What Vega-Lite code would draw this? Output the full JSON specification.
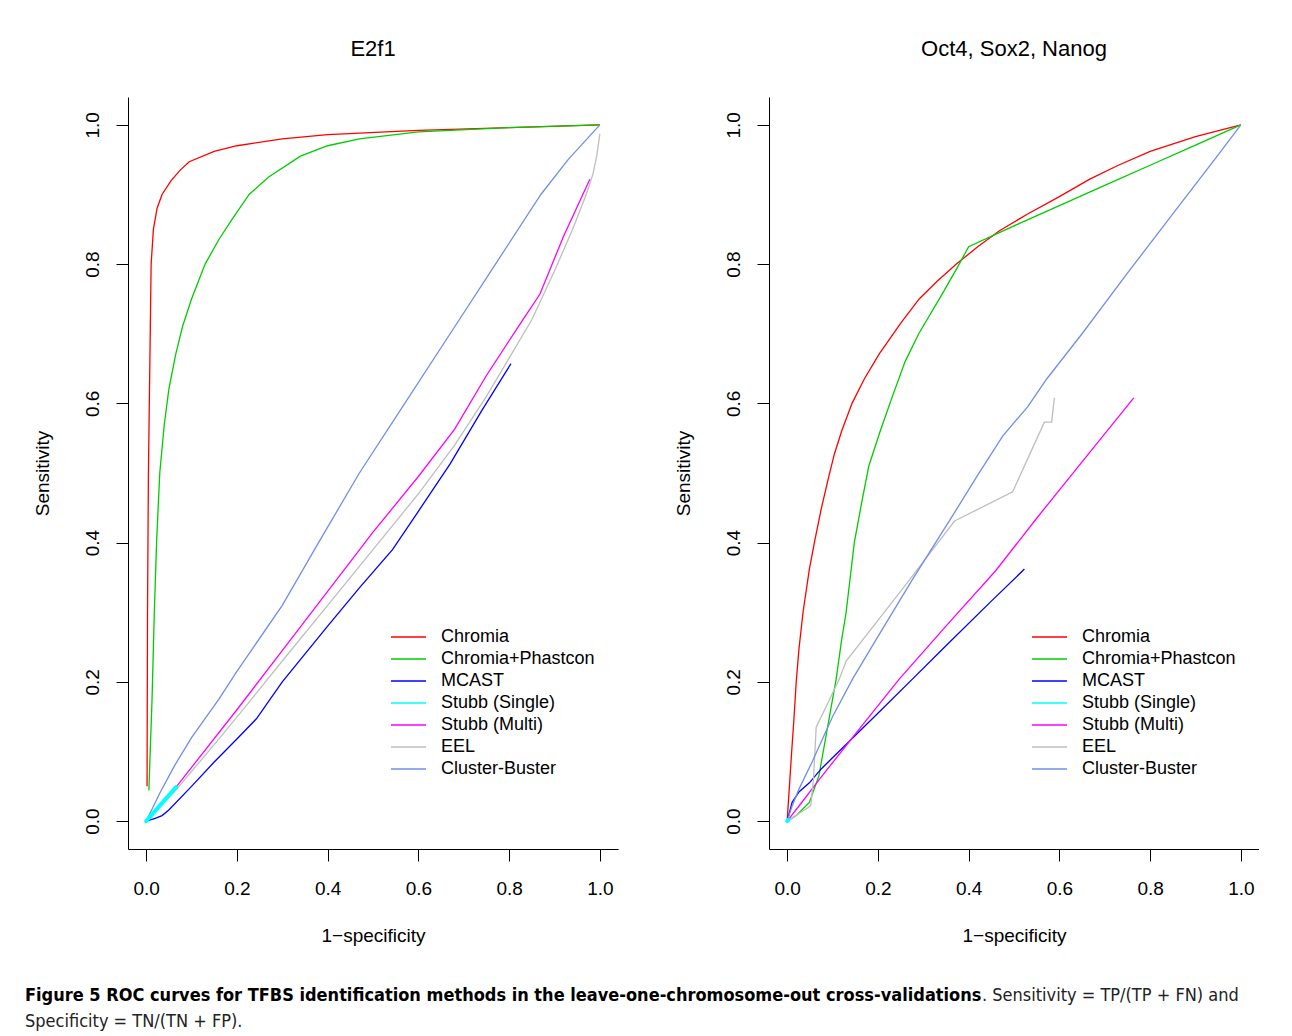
{
  "$schema": "https://vega.github.io/schema/vega-lite/v6.json",
  "padding": {"left": 25, "top": 38, "right": 0, "bottom": 0},
  "background": "white",
  "datasets": {
    "e2f1": [
      {"method": "Chromia", "i": 1, "fpr": 0.002, "tpr": 0.05},
      {"method": "Chromia", "i": 2, "fpr": 0.003, "tpr": 0.3},
      {"method": "Chromia", "i": 3, "fpr": 0.005, "tpr": 0.5},
      {"method": "Chromia", "i": 4, "fpr": 0.007, "tpr": 0.6},
      {"method": "Chromia", "i": 5, "fpr": 0.009, "tpr": 0.7},
      {"method": "Chromia", "i": 6, "fpr": 0.011, "tpr": 0.8},
      {"method": "Chromia", "i": 7, "fpr": 0.016, "tpr": 0.85},
      {"method": "Chromia", "i": 8, "fpr": 0.024, "tpr": 0.88},
      {"method": "Chromia", "i": 9, "fpr": 0.035, "tpr": 0.9},
      {"method": "Chromia", "i": 10, "fpr": 0.055, "tpr": 0.92},
      {"method": "Chromia", "i": 11, "fpr": 0.075, "tpr": 0.935},
      {"method": "Chromia", "i": 12, "fpr": 0.095, "tpr": 0.947},
      {"method": "Chromia", "i": 13, "fpr": 0.15, "tpr": 0.962},
      {"method": "Chromia", "i": 14, "fpr": 0.2, "tpr": 0.97},
      {"method": "Chromia", "i": 15, "fpr": 0.3, "tpr": 0.98},
      {"method": "Chromia", "i": 16, "fpr": 0.4, "tpr": 0.986},
      {"method": "Chromia", "i": 17, "fpr": 0.6, "tpr": 0.992},
      {"method": "Chromia", "i": 18, "fpr": 0.8, "tpr": 0.996},
      {"method": "Chromia", "i": 19, "fpr": 1.0, "tpr": 1.0},
      {"method": "Chromia+Phastcon", "i": 1, "fpr": 0.006, "tpr": 0.044},
      {"method": "Chromia+Phastcon", "i": 2, "fpr": 0.013, "tpr": 0.175},
      {"method": "Chromia+Phastcon", "i": 3, "fpr": 0.018, "tpr": 0.3},
      {"method": "Chromia+Phastcon", "i": 4, "fpr": 0.023, "tpr": 0.4},
      {"method": "Chromia+Phastcon", "i": 5, "fpr": 0.03, "tpr": 0.5},
      {"method": "Chromia+Phastcon", "i": 6, "fpr": 0.04, "tpr": 0.57},
      {"method": "Chromia+Phastcon", "i": 7, "fpr": 0.05, "tpr": 0.62},
      {"method": "Chromia+Phastcon", "i": 8, "fpr": 0.065, "tpr": 0.67},
      {"method": "Chromia+Phastcon", "i": 9, "fpr": 0.08, "tpr": 0.71},
      {"method": "Chromia+Phastcon", "i": 10, "fpr": 0.1, "tpr": 0.75},
      {"method": "Chromia+Phastcon", "i": 11, "fpr": 0.13, "tpr": 0.8},
      {"method": "Chromia+Phastcon", "i": 12, "fpr": 0.16, "tpr": 0.835},
      {"method": "Chromia+Phastcon", "i": 13, "fpr": 0.19, "tpr": 0.865},
      {"method": "Chromia+Phastcon", "i": 14, "fpr": 0.227, "tpr": 0.9},
      {"method": "Chromia+Phastcon", "i": 15, "fpr": 0.27, "tpr": 0.925},
      {"method": "Chromia+Phastcon", "i": 16, "fpr": 0.34, "tpr": 0.955},
      {"method": "Chromia+Phastcon", "i": 17, "fpr": 0.4, "tpr": 0.97},
      {"method": "Chromia+Phastcon", "i": 18, "fpr": 0.47, "tpr": 0.98},
      {"method": "Chromia+Phastcon", "i": 19, "fpr": 0.6, "tpr": 0.99},
      {"method": "Chromia+Phastcon", "i": 20, "fpr": 0.8, "tpr": 0.996},
      {"method": "Chromia+Phastcon", "i": 21, "fpr": 1.0, "tpr": 1.0},
      {"method": "MCAST", "i": 1, "fpr": 0.0, "tpr": 0.0},
      {"method": "MCAST", "i": 2, "fpr": 0.02, "tpr": 0.004},
      {"method": "MCAST", "i": 3, "fpr": 0.035, "tpr": 0.008},
      {"method": "MCAST", "i": 4, "fpr": 0.05, "tpr": 0.016},
      {"method": "MCAST", "i": 5, "fpr": 0.1, "tpr": 0.05},
      {"method": "MCAST", "i": 6, "fpr": 0.15, "tpr": 0.085},
      {"method": "MCAST", "i": 7, "fpr": 0.2, "tpr": 0.118},
      {"method": "MCAST", "i": 8, "fpr": 0.243, "tpr": 0.147},
      {"method": "MCAST", "i": 9, "fpr": 0.3, "tpr": 0.2},
      {"method": "MCAST", "i": 10, "fpr": 0.4, "tpr": 0.28},
      {"method": "MCAST", "i": 11, "fpr": 0.47, "tpr": 0.335},
      {"method": "MCAST", "i": 12, "fpr": 0.543, "tpr": 0.39},
      {"method": "MCAST", "i": 13, "fpr": 0.6, "tpr": 0.445},
      {"method": "MCAST", "i": 14, "fpr": 0.67, "tpr": 0.513},
      {"method": "MCAST", "i": 15, "fpr": 0.74, "tpr": 0.59},
      {"method": "MCAST", "i": 16, "fpr": 0.804, "tpr": 0.657},
      {"method": "Stubb (Single)", "i": 1, "fpr": 0.0, "tpr": 0.0},
      {"method": "Stubb (Single)", "i": 2, "fpr": 0.066, "tpr": 0.049},
      {"method": "Stubb (Multi)", "i": 1, "fpr": 0.066, "tpr": 0.049},
      {"method": "Stubb (Multi)", "i": 2, "fpr": 0.2, "tpr": 0.16},
      {"method": "Stubb (Multi)", "i": 3, "fpr": 0.3, "tpr": 0.245},
      {"method": "Stubb (Multi)", "i": 4, "fpr": 0.4, "tpr": 0.33},
      {"method": "Stubb (Multi)", "i": 5, "fpr": 0.5, "tpr": 0.415},
      {"method": "Stubb (Multi)", "i": 6, "fpr": 0.6, "tpr": 0.495},
      {"method": "Stubb (Multi)", "i": 7, "fpr": 0.68, "tpr": 0.563},
      {"method": "Stubb (Multi)", "i": 8, "fpr": 0.75, "tpr": 0.64},
      {"method": "Stubb (Multi)", "i": 9, "fpr": 0.82, "tpr": 0.71},
      {"method": "Stubb (Multi)", "i": 10, "fpr": 0.868, "tpr": 0.757},
      {"method": "Stubb (Multi)", "i": 11, "fpr": 0.92, "tpr": 0.84},
      {"method": "Stubb (Multi)", "i": 12, "fpr": 0.978, "tpr": 0.922},
      {"method": "EEL", "i": 1, "fpr": 0.0, "tpr": 0.0},
      {"method": "EEL", "i": 2, "fpr": 0.066, "tpr": 0.045},
      {"method": "EEL", "i": 3, "fpr": 0.15, "tpr": 0.11},
      {"method": "EEL", "i": 4, "fpr": 0.232, "tpr": 0.175},
      {"method": "EEL", "i": 5, "fpr": 0.3, "tpr": 0.23},
      {"method": "EEL", "i": 6, "fpr": 0.4, "tpr": 0.31},
      {"method": "EEL", "i": 7, "fpr": 0.5, "tpr": 0.39},
      {"method": "EEL", "i": 8, "fpr": 0.6, "tpr": 0.47},
      {"method": "EEL", "i": 9, "fpr": 0.68, "tpr": 0.54},
      {"method": "EEL", "i": 10, "fpr": 0.75, "tpr": 0.61},
      {"method": "EEL", "i": 11, "fpr": 0.8, "tpr": 0.665},
      {"method": "EEL", "i": 12, "fpr": 0.85, "tpr": 0.72},
      {"method": "EEL", "i": 13, "fpr": 0.9, "tpr": 0.79},
      {"method": "EEL", "i": 14, "fpr": 0.94, "tpr": 0.85},
      {"method": "EEL", "i": 15, "fpr": 0.97, "tpr": 0.9},
      {"method": "EEL", "i": 16, "fpr": 0.985, "tpr": 0.93},
      {"method": "EEL", "i": 17, "fpr": 0.993, "tpr": 0.955},
      {"method": "EEL", "i": 18, "fpr": 1.0, "tpr": 0.987},
      {"method": "Cluster-Buster", "i": 1, "fpr": 0.0, "tpr": 0.0},
      {"method": "Cluster-Buster", "i": 2, "fpr": 0.015, "tpr": 0.02},
      {"method": "Cluster-Buster", "i": 3, "fpr": 0.03, "tpr": 0.04},
      {"method": "Cluster-Buster", "i": 4, "fpr": 0.062, "tpr": 0.079},
      {"method": "Cluster-Buster", "i": 5, "fpr": 0.1, "tpr": 0.12},
      {"method": "Cluster-Buster", "i": 6, "fpr": 0.16, "tpr": 0.175},
      {"method": "Cluster-Buster", "i": 7, "fpr": 0.2, "tpr": 0.215},
      {"method": "Cluster-Buster", "i": 8, "fpr": 0.3, "tpr": 0.31},
      {"method": "Cluster-Buster", "i": 9, "fpr": 0.38, "tpr": 0.4},
      {"method": "Cluster-Buster", "i": 10, "fpr": 0.47, "tpr": 0.5},
      {"method": "Cluster-Buster", "i": 11, "fpr": 0.57, "tpr": 0.6},
      {"method": "Cluster-Buster", "i": 12, "fpr": 0.67, "tpr": 0.7},
      {"method": "Cluster-Buster", "i": 13, "fpr": 0.77, "tpr": 0.8},
      {"method": "Cluster-Buster", "i": 14, "fpr": 0.87, "tpr": 0.9},
      {"method": "Cluster-Buster", "i": 15, "fpr": 0.93, "tpr": 0.95},
      {"method": "Cluster-Buster", "i": 16, "fpr": 1.0, "tpr": 1.0}
    ],
    "oct4": [
      {"method": "Chromia", "i": 1, "fpr": 0.0, "tpr": 0.0},
      {"method": "Chromia", "i": 2, "fpr": 0.005, "tpr": 0.05},
      {"method": "Chromia", "i": 3, "fpr": 0.01, "tpr": 0.1},
      {"method": "Chromia", "i": 4, "fpr": 0.015, "tpr": 0.147},
      {"method": "Chromia", "i": 5, "fpr": 0.02, "tpr": 0.2},
      {"method": "Chromia", "i": 6, "fpr": 0.026, "tpr": 0.247},
      {"method": "Chromia", "i": 7, "fpr": 0.035, "tpr": 0.3},
      {"method": "Chromia", "i": 8, "fpr": 0.049, "tpr": 0.362},
      {"method": "Chromia", "i": 9, "fpr": 0.06, "tpr": 0.4},
      {"method": "Chromia", "i": 10, "fpr": 0.075, "tpr": 0.448},
      {"method": "Chromia", "i": 11, "fpr": 0.09, "tpr": 0.49},
      {"method": "Chromia", "i": 12, "fpr": 0.104, "tpr": 0.527},
      {"method": "Chromia", "i": 13, "fpr": 0.12, "tpr": 0.56},
      {"method": "Chromia", "i": 14, "fpr": 0.143, "tpr": 0.6},
      {"method": "Chromia", "i": 15, "fpr": 0.17, "tpr": 0.635},
      {"method": "Chromia", "i": 16, "fpr": 0.203, "tpr": 0.671},
      {"method": "Chromia", "i": 17, "fpr": 0.25, "tpr": 0.715},
      {"method": "Chromia", "i": 18, "fpr": 0.291, "tpr": 0.75},
      {"method": "Chromia", "i": 19, "fpr": 0.33, "tpr": 0.775},
      {"method": "Chromia", "i": 20, "fpr": 0.373, "tpr": 0.8},
      {"method": "Chromia", "i": 21, "fpr": 0.42, "tpr": 0.825},
      {"method": "Chromia", "i": 22, "fpr": 0.468, "tpr": 0.848},
      {"method": "Chromia", "i": 23, "fpr": 0.53, "tpr": 0.872},
      {"method": "Chromia", "i": 24, "fpr": 0.6, "tpr": 0.897},
      {"method": "Chromia", "i": 25, "fpr": 0.667, "tpr": 0.922},
      {"method": "Chromia", "i": 26, "fpr": 0.73, "tpr": 0.942},
      {"method": "Chromia", "i": 27, "fpr": 0.8, "tpr": 0.962},
      {"method": "Chromia", "i": 28, "fpr": 0.9, "tpr": 0.983},
      {"method": "Chromia", "i": 29, "fpr": 1.0, "tpr": 1.0},
      {"method": "Chromia+Phastcon", "i": 1, "fpr": 0.0, "tpr": 0.0},
      {"method": "Chromia+Phastcon", "i": 2, "fpr": 0.02, "tpr": 0.008},
      {"method": "Chromia+Phastcon", "i": 3, "fpr": 0.049, "tpr": 0.027},
      {"method": "Chromia+Phastcon", "i": 4, "fpr": 0.07, "tpr": 0.065},
      {"method": "Chromia+Phastcon", "i": 5, "fpr": 0.085, "tpr": 0.12},
      {"method": "Chromia+Phastcon", "i": 6, "fpr": 0.1, "tpr": 0.175},
      {"method": "Chromia+Phastcon", "i": 7, "fpr": 0.108, "tpr": 0.204},
      {"method": "Chromia+Phastcon", "i": 8, "fpr": 0.12, "tpr": 0.26},
      {"method": "Chromia+Phastcon", "i": 9, "fpr": 0.13, "tpr": 0.3},
      {"method": "Chromia+Phastcon", "i": 10, "fpr": 0.148, "tpr": 0.4},
      {"method": "Chromia+Phastcon", "i": 11, "fpr": 0.165, "tpr": 0.46},
      {"method": "Chromia+Phastcon", "i": 12, "fpr": 0.18, "tpr": 0.51},
      {"method": "Chromia+Phastcon", "i": 13, "fpr": 0.205, "tpr": 0.56},
      {"method": "Chromia+Phastcon", "i": 14, "fpr": 0.232, "tpr": 0.61},
      {"method": "Chromia+Phastcon", "i": 15, "fpr": 0.26, "tpr": 0.66},
      {"method": "Chromia+Phastcon", "i": 16, "fpr": 0.29, "tpr": 0.7},
      {"method": "Chromia+Phastcon", "i": 17, "fpr": 0.34, "tpr": 0.755},
      {"method": "Chromia+Phastcon", "i": 18, "fpr": 0.375, "tpr": 0.795},
      {"method": "Chromia+Phastcon", "i": 19, "fpr": 0.4, "tpr": 0.825},
      {"method": "Chromia+Phastcon", "i": 20, "fpr": 0.5, "tpr": 0.855},
      {"method": "Chromia+Phastcon", "i": 21, "fpr": 0.6, "tpr": 0.884},
      {"method": "Chromia+Phastcon", "i": 22, "fpr": 0.7, "tpr": 0.913},
      {"method": "Chromia+Phastcon", "i": 23, "fpr": 0.8, "tpr": 0.942},
      {"method": "Chromia+Phastcon", "i": 24, "fpr": 0.9, "tpr": 0.971},
      {"method": "Chromia+Phastcon", "i": 25, "fpr": 1.0, "tpr": 1.0},
      {"method": "MCAST", "i": 1, "fpr": 0.0, "tpr": 0.0},
      {"method": "MCAST", "i": 2, "fpr": 0.011, "tpr": 0.027},
      {"method": "MCAST", "i": 3, "fpr": 0.026, "tpr": 0.042},
      {"method": "MCAST", "i": 4, "fpr": 0.049, "tpr": 0.055},
      {"method": "MCAST", "i": 5, "fpr": 0.075, "tpr": 0.075},
      {"method": "MCAST", "i": 6, "fpr": 0.1, "tpr": 0.091},
      {"method": "MCAST", "i": 7, "fpr": 0.15, "tpr": 0.123},
      {"method": "MCAST", "i": 8, "fpr": 0.2, "tpr": 0.155},
      {"method": "MCAST", "i": 9, "fpr": 0.276, "tpr": 0.204},
      {"method": "MCAST", "i": 10, "fpr": 0.35, "tpr": 0.252},
      {"method": "MCAST", "i": 11, "fpr": 0.45, "tpr": 0.316},
      {"method": "MCAST", "i": 12, "fpr": 0.523, "tpr": 0.362},
      {"method": "Stubb (Single)", "i": 1, "fpr": 0.0, "tpr": 0.0},
      {"method": "Stubb (Single)", "i": 2, "fpr": 0.003, "tpr": 0.002},
      {"method": "Stubb (Multi)", "i": 1, "fpr": 0.0, "tpr": 0.0},
      {"method": "Stubb (Multi)", "i": 2, "fpr": 0.03, "tpr": 0.025},
      {"method": "Stubb (Multi)", "i": 3, "fpr": 0.071, "tpr": 0.06},
      {"method": "Stubb (Multi)", "i": 4, "fpr": 0.15, "tpr": 0.125},
      {"method": "Stubb (Multi)", "i": 5, "fpr": 0.247, "tpr": 0.204},
      {"method": "Stubb (Multi)", "i": 6, "fpr": 0.35, "tpr": 0.28},
      {"method": "Stubb (Multi)", "i": 7, "fpr": 0.46, "tpr": 0.36},
      {"method": "Stubb (Multi)", "i": 8, "fpr": 0.55, "tpr": 0.435},
      {"method": "Stubb (Multi)", "i": 9, "fpr": 0.65, "tpr": 0.516},
      {"method": "Stubb (Multi)", "i": 10, "fpr": 0.764, "tpr": 0.608},
      {"method": "EEL", "i": 1, "fpr": 0.0, "tpr": 0.0},
      {"method": "EEL", "i": 2, "fpr": 0.052, "tpr": 0.022},
      {"method": "EEL", "i": 3, "fpr": 0.058, "tpr": 0.06},
      {"method": "EEL", "i": 4, "fpr": 0.064, "tpr": 0.135},
      {"method": "EEL", "i": 5, "fpr": 0.09, "tpr": 0.17},
      {"method": "EEL", "i": 6, "fpr": 0.115, "tpr": 0.204},
      {"method": "EEL", "i": 7, "fpr": 0.13, "tpr": 0.23},
      {"method": "EEL", "i": 8, "fpr": 0.25, "tpr": 0.33},
      {"method": "EEL", "i": 9, "fpr": 0.369, "tpr": 0.431},
      {"method": "EEL", "i": 10, "fpr": 0.497, "tpr": 0.473},
      {"method": "EEL", "i": 11, "fpr": 0.567, "tpr": 0.573},
      {"method": "EEL", "i": 12, "fpr": 0.583, "tpr": 0.573},
      {"method": "EEL", "i": 13, "fpr": 0.589, "tpr": 0.608},
      {"method": "Cluster-Buster", "i": 1, "fpr": 0.0, "tpr": 0.0},
      {"method": "Cluster-Buster", "i": 2, "fpr": 0.01, "tpr": 0.02},
      {"method": "Cluster-Buster", "i": 3, "fpr": 0.026, "tpr": 0.046},
      {"method": "Cluster-Buster", "i": 4, "fpr": 0.055, "tpr": 0.085},
      {"method": "Cluster-Buster", "i": 5, "fpr": 0.1, "tpr": 0.15},
      {"method": "Cluster-Buster", "i": 6, "fpr": 0.144, "tpr": 0.204},
      {"method": "Cluster-Buster", "i": 7, "fpr": 0.2, "tpr": 0.265},
      {"method": "Cluster-Buster", "i": 8, "fpr": 0.277, "tpr": 0.348},
      {"method": "Cluster-Buster", "i": 9, "fpr": 0.364, "tpr": 0.438},
      {"method": "Cluster-Buster", "i": 10, "fpr": 0.42, "tpr": 0.497},
      {"method": "Cluster-Buster", "i": 11, "fpr": 0.475, "tpr": 0.553},
      {"method": "Cluster-Buster", "i": 12, "fpr": 0.53, "tpr": 0.595},
      {"method": "Cluster-Buster", "i": 13, "fpr": 0.572, "tpr": 0.635},
      {"method": "Cluster-Buster", "i": 14, "fpr": 0.65, "tpr": 0.7},
      {"method": "Cluster-Buster", "i": 15, "fpr": 0.75, "tpr": 0.787},
      {"method": "Cluster-Buster", "i": 16, "fpr": 0.85, "tpr": 0.872},
      {"method": "Cluster-Buster", "i": 17, "fpr": 0.95, "tpr": 0.957},
      {"method": "Cluster-Buster", "i": 18, "fpr": 1.0, "tpr": 1.0}
    ]
  },
  "title": {
    "text": "Figure 5 ROC curves for TFBS identification methods in the leave-one-chromosome-out cross-validations",
    "subtitle": "Specificity = TN/(TN + FP).",
    "orient": "bottom",
    "anchor": "start",
    "dx": -8,
    "offset": -18,
    "font": "DejaVu Sans Condensed, Liberation Sans Narrow, Roboto Condensed, Roboto",
    "fontWeight": "bold",
    "fontSize": 18,
    "color": "black",
    "subtitleFont": "DejaVu Sans Condensed, Liberation Sans Narrow, Roboto Condensed, Roboto",
    "subtitleFontSize": 18,
    "subtitleColor": "#222222",
    "subtitlePadding": 8
  },
  "vconcat": [
    {
      "title": {
        "text": ". Sensitivity = TP/(TP + FN) and",
        "orient": "bottom",
        "anchor": "start",
        "dx": 949,
        "offset": 42,
        "font": "DejaVu Sans Condensed, Liberation Sans Narrow, Roboto Condensed, Roboto",
        "fontWeight": "normal",
        "fontSize": 18,
        "color": "#222222"
      },
      "spacing": 56,
      "resolve": {"legend": {"color": "independent"}},
      "hconcat": [
        {
          "title": {"text": "E2f1"},
          "width": 490,
          "height": 752,
          "data": {"name": "e2f1"},
          "layer": [
            {
              "mark": {"type": "line", "strokeWidth": 1.3, "clip": true},
              "encoding": {
                "x": {"field": "fpr", "type": "quantitative", "scale": {"domain": [-0.04, 1.04], "nice": false, "zero": false}, "axis": {"values": [0, 0.2, 0.4, 0.6, 0.8, 1.0], "format": ".1f", "title": "1−specificity"}},
                "y": {"field": "tpr", "type": "quantitative", "scale": {"domain": [-0.04, 1.04], "nice": false, "zero": false}, "axis": {"values": [0, 0.2, 0.4, 0.6, 0.8, 1.0], "format": ".1f", "title": "Sensitivity"}},
                "color": {"field": "method", "type": "nominal", "scale": {"domain": ["Chromia", "Chromia+Phastcon", "MCAST", "Stubb (Single)", "Stubb (Multi)", "EEL", "Cluster-Buster"], "range": ["#FF0000", "#00CD00", "#0000FF", "#00FFFF", "#FF00FF", "#BEBEBE", "#6F8FEA"]}},
                "order": {"field": "i", "type": "quantitative"}
              }
            },
            {
              "transform": [{"filter": "datum.method === 'Stubb (Single)'"}],
              "mark": {"type": "line", "strokeWidth": 4, "color": "#00FFFF", "strokeCap": "round"},
              "encoding": {
                "x": {"field": "fpr", "type": "quantitative"},
                "y": {"field": "tpr", "type": "quantitative"},
                "order": {"field": "i", "type": "quantitative"}
              }
            }
          ]
        },
        {
          "title": {"text": "Oct4, Sox2, Nanog"},
          "width": 490,
          "height": 752,
          "data": {"name": "oct4"},
          "layer": [
            {
              "mark": {"type": "line", "strokeWidth": 1.3, "clip": true},
              "encoding": {
                "x": {"field": "fpr", "type": "quantitative", "scale": {"domain": [-0.04, 1.04], "nice": false, "zero": false}, "axis": {"values": [0, 0.2, 0.4, 0.6, 0.8, 1.0], "format": ".1f", "title": "1−specificity"}},
                "y": {"field": "tpr", "type": "quantitative", "scale": {"domain": [-0.04, 1.04], "nice": false, "zero": false}, "axis": {"values": [0, 0.2, 0.4, 0.6, 0.8, 1.0], "format": ".1f", "title": "Sensitivity"}},
                "color": {"field": "method", "type": "nominal", "scale": {"domain": ["Chromia", "Chromia+Phastcon", "MCAST", "Stubb (Single)", "Stubb (Multi)", "EEL", "Cluster-Buster"], "range": ["#FF0000", "#00CD00", "#0000FF", "#00FFFF", "#FF00FF", "#BEBEBE", "#6F8FEA"]}},
                "order": {"field": "i", "type": "quantitative"}
              }
            },
            {
              "transform": [{"filter": "datum.method === 'Stubb (Single)'"}],
              "mark": {"type": "line", "strokeWidth": 4, "color": "#00FFFF", "strokeCap": "round"},
              "encoding": {
                "x": {"field": "fpr", "type": "quantitative"},
                "y": {"field": "tpr", "type": "quantitative"},
                "order": {"field": "i", "type": "quantitative"}
              }
            }
          ]
        }
      ]
    }
  ],
  "config": {
    "view": {"stroke": null},
    "font": "Liberation Sans",
    "title": {"fontSize": 22, "fontWeight": "normal", "font": "Liberation Sans", "offset": 36, "color": "black"},
    "axis": {
      "grid": false,
      "domainColor": "black",
      "domainWidth": 1,
      "tickColor": "black",
      "tickWidth": 1,
      "tickSize": 12,
      "labelFontSize": 19,
      "labelColor": "black",
      "labelFont": "Liberation Sans",
      "titleFont": "Liberation Sans",
      "titleFontSize": 19,
      "titleFontWeight": "normal",
      "titleColor": "black"
    },
    "axisX": {"labelBaseline": "alphabetic", "labelPadding": 33, "titlePadding": 28},
    "axisY": {"labelAngle": -90, "labelAlign": "center", "labelBaseline": "alphabetic", "labelPadding": 18, "titlePadding": 31},
    "legend": {
      "orient": "none",
      "legendX": 262,
      "legendY": 529,
      "title": null,
      "symbolType": "stroke",
      "symbolSize": 1225,
      "symbolStrokeWidth": 1.3,
      "labelFontSize": 18,
      "labelFont": "Liberation Sans",
      "labelColor": "black",
      "labelOffset": 14,
      "clipHeight": 22,
      "rowPadding": 0
    }
  }
}
